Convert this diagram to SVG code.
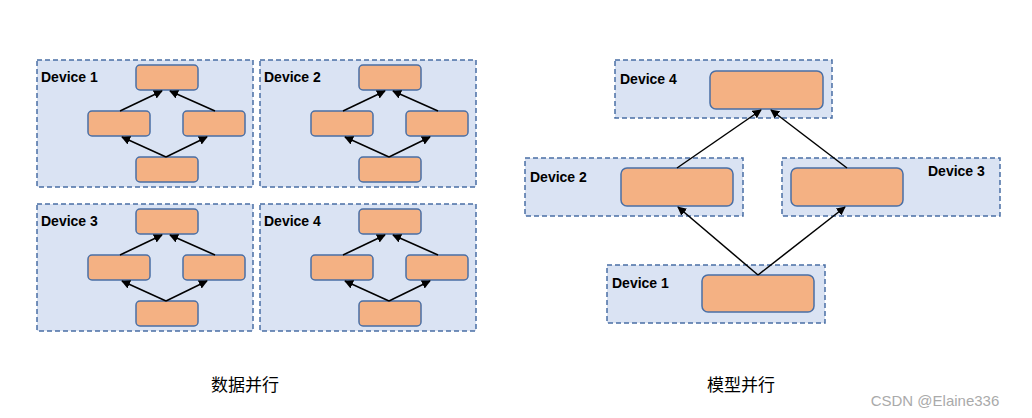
<svg xmlns="http://www.w3.org/2000/svg" width="1032" height="418" viewBox="0 0 1032 418">
<style>
.dev{fill:#dae3f3;stroke:#4a6fa5;stroke-width:1.5;stroke-dasharray:5,3}
.n{fill:#f4b183;stroke:#4a6fa5;stroke-width:1.5}
.lb{font-family:"Liberation Sans",Arial,sans-serif;font-weight:bold;font-size:14px;fill:#000}
.cap{font-family:"Noto Sans CJK SC",sans-serif;font-size:17px;fill:#000}
.c line{stroke:#000;stroke-width:1.5;marker-end:url(#a)}
</style>
<defs><marker id="a" viewBox="0 0 10 10" refX="9" refY="5" markerWidth="6" markerHeight="6" orient="auto"><path d="M0,0L10,5L0,10z" fill="#000"/></marker>
<g id="dp">
<rect x="0" y="0" width="216" height="127" class="dev"/>
<rect x="99" y="5" width="62" height="25" rx="4" class="n"/>
<rect x="51" y="51" width="62" height="25" rx="4" class="n"/>
<rect x="146" y="51" width="62" height="25" rx="4" class="n"/>
<rect x="99" y="97" width="62" height="25" rx="4" class="n"/>
<g class="c"><line x1="129" y1="97" x2="85" y2="77"/><line x1="129" y1="97" x2="170" y2="77"/><line x1="83" y1="51" x2="125" y2="31"/><line x1="178" y1="51" x2="133" y2="31"/></g>
</g></defs>
<rect width="1032" height="418" fill="#fff"/>
<g id="dp1"><use href="#dp" x="37" y="60"/><text x="41" y="82" class="lb">Device 1</text></g>
<g id="dp2"><use href="#dp" x="260" y="60"/><text x="264" y="82" class="lb">Device 2</text></g>
<g id="dp3"><use href="#dp" x="37" y="204"/><text x="41" y="226" class="lb">Device 3</text></g>
<g id="dp4"><use href="#dp" x="260" y="204"/><text x="264" y="226" class="lb">Device 4</text></g>
<g id="m4"><rect x="615" y="60" width="217" height="58" class="dev"/><rect x="710" y="71" width="113" height="38" rx="6" class="n"/><text x="620" y="84" class="lb">Device 4</text></g>
<g id="m2"><rect x="525" y="158" width="218" height="58" class="dev"/><rect x="621" y="168" width="112" height="38" rx="6" class="n"/><text x="530" y="182" class="lb">Device 2</text></g>
<g id="m3"><rect x="782" y="158" width="218" height="58" class="dev"/><rect x="791" y="168" width="112" height="38" rx="6" class="n"/><text x="928" y="176" class="lb">Device 3</text></g>
<g id="m1"><rect x="607" y="265" width="218" height="58" class="dev"/><rect x="702" y="275" width="112" height="37" rx="6" class="n"/><text x="612" y="288" class="lb">Device 1</text></g>
<g class="c" id="connectors"><line x1="758" y1="275" x2="678" y2="207"/><line x1="758" y1="275" x2="845" y2="207"/><line x1="677" y1="168" x2="761" y2="110"/><line x1="847" y1="168" x2="771" y2="110"/></g>
<text x="245" y="391" class="cap" text-anchor="middle">数据并行</text>
<text x="741" y="391" class="cap" text-anchor="middle">模型并行</text>
<text x="935" y="406" text-anchor="middle" font-family="Liberation Sans,sans-serif" font-size="15" fill="#aaa">CSDN @Elaine336</text>
</svg>
